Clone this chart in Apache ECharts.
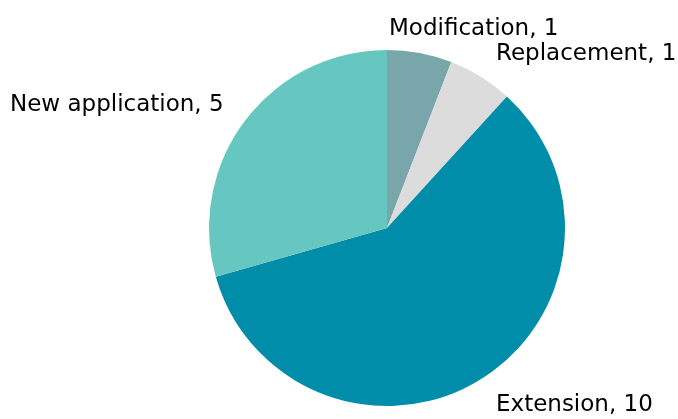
<!DOCTYPE html>
<html>
<head>
<meta charset="utf-8">
<script src="https://cdn.jsdelivr.net/npm/echarts@6/dist/echarts.min.js"></script>
<style>
  html, body { margin: 0; padding: 0; background: #ffffff; }
  #chart { width: 678px; height: 419px; }
</style>
</head>
<body>
<div id="chart"></div>
<script>
// Application types and their counts
const categories = ['Modification', 'Replacement', 'Extension', 'New application'];
const counts = [1, 1, 10, 5];
const sliceColors = ['#79A6AB', '#DCDCDC', '#008DA9', '#66C7C1'];

// Label anchor positions (left edge, vertical middle), in data order
const labelSpots = [
  { x: 389, y: 29 },
  { x: 496, y: 54 },
  { x: 496, y: 405 },
  { x: 10, y: 105 }
];

const chart = echarts.init(document.getElementById('chart'), null, { renderer: 'canvas' });

chart.setOption({
  animation: false,
  backgroundColor: '#ffffff',
  series: [{
    type: 'pie',
    center: [387, 228],
    radius: [0, 178],
    startAngle: 90,
    clockwise: true,
    avoidLabelOverlap: false,
    itemStyle: { borderWidth: 0 },
    label: {
      show: true,
      position: 'outside',
      formatter: p => p.name + ', ' + p.value,
      color: '#000000',
      fontFamily: 'DejaVu Sans',
      fontSize: 23
    },
    labelLine: { show: false },
    labelLayout: params => {
      const spot = labelSpots[params.dataIndex];
      return { x: spot.x, y: spot.y, align: 'left', verticalAlign: 'middle' };
    },
    emphasis: { disabled: true },
    data: categories.map((name, i) => ({
      name: name,
      value: counts[i],
      itemStyle: { color: sliceColors[i] }
    }))
  }]
});
</script>
</body>
</html>
